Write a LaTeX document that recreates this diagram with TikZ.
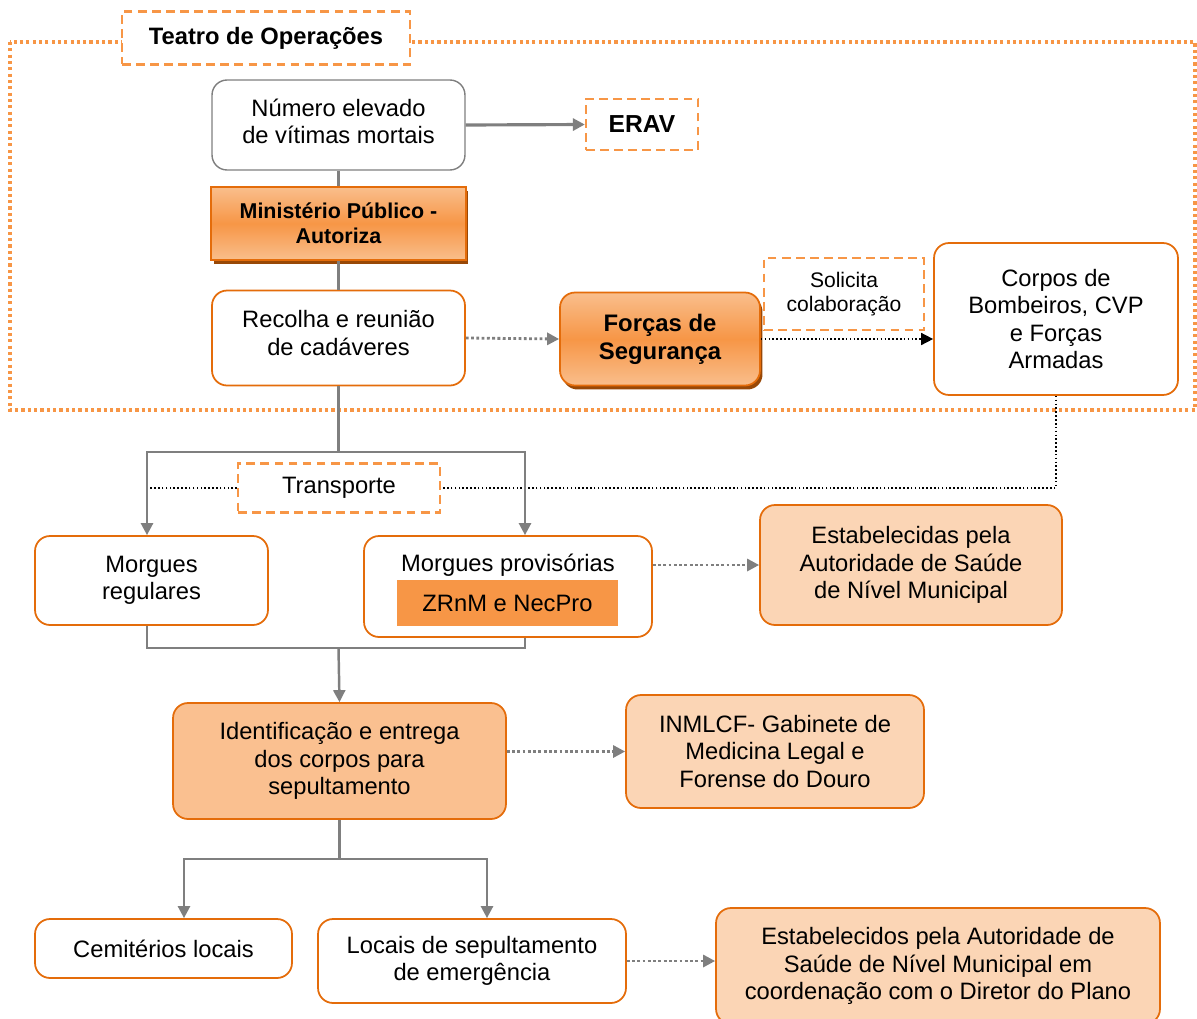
\documentclass[tikz,border=0pt]{standalone}
\usepackage{fontspec}
\setmainfont{Liberation Sans}
\usetikzlibrary{arrows.meta,shadows}

\definecolor{orgline}{HTML}{E46C0A}
\definecolor{dashorg}{HTML}{F79646}
\definecolor{peachlt}{HTML}{FBD5B5}
\definecolor{peachmd}{HTML}{FAC090}
\definecolor{grayline}{HTML}{7F7F7F}
\definecolor{shbrown}{HTML}{984807}
\definecolor{gradlt}{HTML}{F9BE8C}

\begin{document}
\begin{tikzpicture}[x=0.02cm,y=-0.02cm,
    every node/.style={font=\fontsize{13.5}{15.5}\selectfont, align=center, inner sep=0pt},
    wbox/.style={draw=orgline, line width=1pt, rounded corners=0.3cm, fill=white},
    pbox/.style={wbox, fill=peachlt},
    dbox/.style={draw=dashorg, line width=1.3pt, dash pattern=on 5pt off 3pt, fill=white},
    gbox/.style={draw=orgline, line width=1pt, top color=gradlt, bottom color=gradlt, middle color=dashorg,
        general shadow={fill=shbrown, shadow xshift=0.05cm, shadow yshift=-0.08cm}},
    conn/.style={draw=grayline, line width=1.4pt},
    arr/.style={-{Triangle[length=0.24cm,width=0.24cm]}},
    gdot/.style={draw=grayline, line width=1.6pt, dash pattern=on 1.6pt off 1.4pt, arr},
    kdot/.style={draw=black, line width=0.9pt, dash pattern=on 0.9pt off 1.3pt}
]
\useasboundingbox (0,0) rectangle (1197,1018);

\draw[draw=dashorg, line width=1.8pt, dash pattern=on 1.8pt off 1.8pt] (10,42) rectangle (1195,410);

\node[dbox, minimum width=5.76cm, minimum height=1.06cm, font=\fontsize{13.5}{15.5}\selectfont\bfseries] (teatro) at (266,38) {Teatro de Operações};
\node[draw=grayline, line width=0.8pt, rounded corners=0.3cm, fill=white, minimum width=5.06cm, minimum height=1.8cm,
    label={[yshift=0.08cm]center:Número elevado\\de vítimas mortais}] (num) at (338.5,125) {};
\node[dbox, minimum width=2.24cm, minimum height=1.02cm, font=\fontsize{14}{16}\selectfont\bfseries] (erav) at (642,124.5) {ERAV};
\node[gbox, minimum width=5.1cm, minimum height=1.46cm, font=\fontsize{12.2}{14}\selectfont\bfseries] (min) at (338.5,223.5) {Ministério Público -\\Autoriza};
\node[wbox, minimum width=5.06cm, minimum height=1.9cm,
    label={[yshift=0.1cm]center:Recolha e reunião\\de cadáveres}] (rec) at (338.5,338) {};
\node[gbox, rounded corners=0.3cm, minimum width=4cm, minimum height=1.86cm, font=\fontsize{13.6}{16}\selectfont\bfseries] (forcas) at (660,339) {Forças de\\Segurança};
\node[dbox, minimum width=3.2cm, minimum height=1.44cm, font=\fontsize{12}{14}\selectfont] (solic) at (844,294) {Solicita\\colaboração};
\node[wbox, minimum width=4.88cm, minimum height=3.04cm] (corpos) at (1056,319) {Corpos de\\Bombeiros, CVP\\e Forças\\Armadas};

\node[dbox, minimum width=4.04cm, minimum height=0.98cm] (transp) at (339,488) {Transporte};
\node[wbox, minimum width=4.66cm, minimum height=1.78cm] (mreg) at (151.5,580.5) {Morgues\\regulares};
\node[wbox, minimum width=5.76cm, minimum height=2.02cm] (mprov) at (508,586.5) {};
\node (mprovt) at (508,565) {Morgues provisórias};
\node[fill=dashorg, minimum width=4.42cm, minimum height=0.92cm] (zrnm) at (507.5,603) {ZRnM e NecPro};
\node[pbox, minimum width=6.04cm, minimum height=2.4cm] (estab) at (911,565) {Estabelecidas pela\\Autoridade de Saúde\\de Nível Municipal};

\node[wbox, fill=peachmd, minimum width=6.66cm, minimum height=2.32cm] (ident) at (339.5,761) {Identificação e entrega\\dos corpos para\\sepultamento};
\node[pbox, minimum width=5.96cm, minimum height=2.26cm] (inml) at (775,751.5) {INMLCF- Gabinete de\\Medicina Legal e\\Forense do Douro};
\node[wbox, minimum width=5.14cm, minimum height=1.18cm] (cem) at (163.5,948.5) {Cemitérios locais};
\node[wbox, minimum width=6.16cm, minimum height=1.68cm] (loc) at (472,961) {Locais de sepultamento\\de emergência};
\node[pbox, minimum width=8.88cm, minimum height=2.32cm] (estab2) at (938,966) {Estabelecidos pela Autoridade de\\Saúde de Nível Municipal em\\coordenação com o Diretor do Plano};

\coordinate (br1) at (338.5,452);
\coordinate (br2) at (338.5,648);
\coordinate (br3) at (339.5,859);
\coordinate (tleft) at (147,488);

\path [conn] (num) edge (min)
             (min) edge (rec);
\draw [conn, line width=1.8pt, arr] (num.east) -- (erav.west);
\draw [gdot] (rec.east) -- (forcas.west);
\draw [kdot, -{Triangle[length=0.24cm,width=0.24cm]}] (forcas.east) -- (forcas.east -| corpos.west);
\draw [kdot] (corpos.south) |- (transp.east);
\draw [kdot] (transp.west) -- (tleft);

\draw [conn] (rec.south) -- (br1);
\draw [conn, arr] (br1) -| ([xshift=-0.09cm]mreg.north);
\draw [conn, arr] (br1) -| ([xshift=0.34cm]mprov.north);
\draw [conn] ([xshift=-0.09cm]mreg.south) |- (br2) -| ([xshift=0.34cm]mprov.south);
\draw [conn, arr] (br2) -- (ident.north);
\draw [gdot] (mprovt.east -| mprov.east) -- (mprovt.east -| estab.west);

\draw [gdot] (inml.west -| ident.east) -- (inml.west);
\draw [conn] (ident.south) -- (br3);
\draw [conn, arr] (br3) -| ([xshift=0.41cm]cem.north);
\draw [conn, arr] (br3) -| ([xshift=0.3cm]loc.north);
\draw [gdot] (loc.east) -- (loc.east -| estab2.west);
\end{tikzpicture}
\end{document}
